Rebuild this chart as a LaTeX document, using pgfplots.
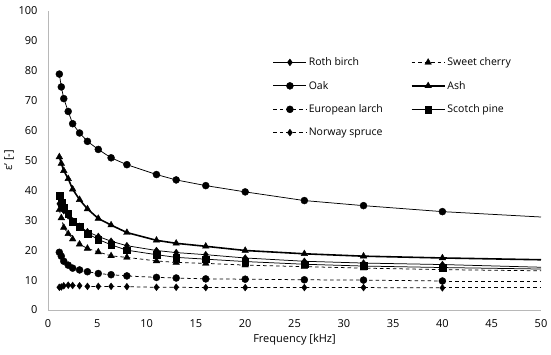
\documentclass[border=0pt]{standalone}
\usepackage{fontspec}
\setmainfont{Open Sans}
\usepackage{pgfplots}
\pgfplotsset{compat=1.18}
\begin{document}
\begin{tikzpicture}[font=\fontsize{11}{13}\selectfont]
\begin{axis}[
  scale only axis, width=493pt, height=299pt,
  at={(0,0)}, anchor=south west,
  xmin=0, xmax=50, ymin=0, ymax=100,
  xtick={0,5,...,50}, ytick={0,10,...,100},
  axis lines*=left,
  axis line style={draw=black!28, line width=0.8pt},
  major tick length=0pt,
  /pgf/number format/assume math mode=true,
  xticklabel style={yshift=-6pt},
  yticklabel style={xshift=-7pt},
  xlabel={Frequency [kHz]},
  ylabel={ε' [-]},
  xlabel style={at={(axis description cs:0.5,-0.100)}, anchor=center},
  ylabel style={at={(axis description cs:-0.079,0.5)}, anchor=center},
  clip=false,
  legend columns=2,
  legend cell align=left,
  legend style={draw=none, fill=none, at={(axis cs:22.5,85.8)}, anchor=north west,
    font=\fontsize{10.5}{12.5}\selectfont,
    row sep=10pt,
    /tikz/every odd column/.append style={column sep=0pt},
    /tikz/every even column/.append style={column sep=26pt}},
  legend image code/.code={\draw[mark repeat=2,mark phase=2] plot coordinates {(0pt,0pt)(16.5pt,0pt)(33pt,0pt)};},
]
% Roth birch
\addplot[black, line width=0.75pt, mark=diamond*, mark size=3.4pt, mark options={solid, line width=0.4pt}] coordinates {
(1.15,35.5)(1.35,34.5)(1.6,33.2)(2.05,31.5)(2.5,29.8)(3.2,28.0)(4,26.2)(5.1,24.6)(6.4,23.0)(8,21.5)(11,19.9)(13,19.2)(16,18.5)(20,17.4)(26,16.3)(32,15.7)(40,15.2)};
\addlegendentry{Roth birch}
% Sweet cherry
\addplot[black, line width=0.75pt, dash pattern=on 3.5pt off 3pt, mark=triangle*, mark size=3.8pt, mark options={solid, line width=0.4pt}] coordinates {
(1.15,33.5)(1.35,30.8)(1.6,27.6)(2.05,25.5)(2.5,23.7)(3.2,22.0)(4,20.6)(5.1,19.4)(6.4,18.1)(8,17.6)(11,16.4)(13,15.9)(16,15.6)(20,15.0)(26,14.5)(32,14.0)(40,13.5)};
\addlegendentry{Sweet cherry}
% Oak
\addplot[black, line width=0.75pt, mark=*, mark size=3.5pt, mark options={solid, line width=0.4pt}] coordinates {
(1.15,78.9)(1.35,74.6)(1.6,70.7)(2.05,66.4)(2.5,62.3)(3.2,59.2)(4,56.4)(5.1,53.7)(6.4,50.9)(8,48.6)(11,45.3)(13,43.5)(16,41.6)(20,39.5)(26,36.6)(32,34.9)(40,32.9)};
\addlegendentry{Oak}
% Ash
\addplot[black, line width=1.6pt, mark=triangle*, mark size=3.8pt, mark options={solid, line width=0.4pt}] coordinates {
(1.15,51.2)(1.35,49.0)(1.6,46.6)(2.05,43.9)(2.5,40.4)(3.2,36.9)(4,33.8)(5.1,30.6)(6.4,28.4)(8,25.9)(11,23.3)(13,22.3)(16,21.3)(20,19.9)(26,18.8)(32,18.0)(40,17.4)};
\addlegendentry{Ash}
% European larch
\addplot[black, line width=0.75pt, dash pattern=on 3.5pt off 3pt, mark=*, mark size=3.5pt, mark options={solid, line width=0.4pt}] coordinates {
(1.15,19.3)(1.35,18.0)(1.6,16.3)(2.05,15.0)(2.5,14.0)(3.2,13.4)(4,12.8)(5.1,12.2)(6.4,11.8)(8,11.4)(11,10.9)(13,10.7)(16,10.4)(20,10.3)(26,10.1)(32,10.0)(40,9.7)};
\addlegendentry{European larch}
% Scotch pine
\addplot[black, line width=0.75pt, mark=square*, mark size=3.4pt, mark options={solid, line width=0.4pt}] coordinates {
(1.15,38.3)(1.35,36.0)(1.6,34.4)(2.05,32.3)(2.5,29.6)(3.2,27.9)(4,25.6)(5.1,23.6)(6.4,21.8)(8,20.0)(11,18.5)(13,17.6)(16,17.0)(20,16.2)(26,15.3)(32,14.7)(40,14.2)};
\addlegendentry{Scotch pine}
% Norway spruce
\addplot[black, line width=0.75pt, dash pattern=on 3.5pt off 3pt, mark=diamond*, mark size=3.4pt, mark options={solid, line width=0.4pt}] coordinates {
(1.15,7.6)(1.35,7.7)(1.6,8.1)(2.05,8.3)(2.5,8.2)(3.2,8.1)(4,7.9)(5.1,7.9)(6.4,7.9)(8,7.8)(11,7.6)(13,7.6)(16,7.5)(20,7.5)(26,7.5)(32,7.5)(40,7.4)};
\addlegendentry{Norway spruce}
% line extensions to 50
\addplot[forget plot, black, line width=0.75pt] coordinates {(40,15.2)(50,14.3)};
\addplot[forget plot, black, line width=0.75pt, dash pattern=on 3.5pt off 3pt] coordinates {(40,13.5)(50,13.1)};
\addplot[forget plot, black, line width=0.75pt] coordinates {(40,32.9)(50,31.1)};
\addplot[forget plot, black, line width=1.6pt] coordinates {(40,17.4)(50,16.8)};
\addplot[forget plot, black, line width=0.75pt, dash pattern=on 3.5pt off 3pt] coordinates {(40,9.7)(50,9.7)};
\addplot[forget plot, black, line width=0.75pt] coordinates {(40,14.2)(50,13.7)};
\addplot[forget plot, black, line width=0.75pt, dash pattern=on 3.5pt off 3pt] coordinates {(40,7.4)(50,7.4)};
\end{axis}
\pgfresetboundingbox
\useasboundingbox (-48pt,-45pt) rectangle (503pt,310pt);
\end{tikzpicture}
\end{document}
